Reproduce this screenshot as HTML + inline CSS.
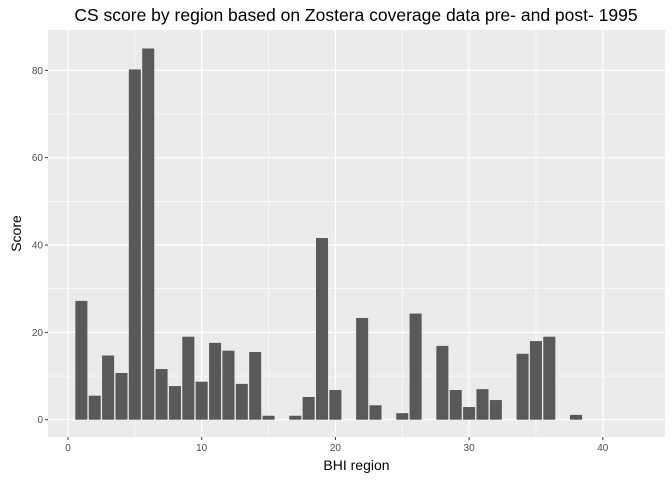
<!DOCTYPE html>
<html><head><meta charset="utf-8"><style>body{margin:0;background:#fff}svg{display:block;font-family:"Liberation Sans",sans-serif}</style></head>
<body>
<svg id="c" width="672" height="480"></svg>
<script>
const regions=[1,2,3,4,5,6,7,8,9,10,11,12,13,14,15,17,18,19,20,22,23,25,26,28,29,30,31,32,34,35,36,38];
const scores=[27.2,5.5,14.7,10.7,80.2,85,11.6,7.7,19,8.7,17.6,15.8,8.2,15.5,0.9,0.9,5.2,41.6,6.8,23.3,3.3,1.5,24.3,16.9,6.8,2.9,7,4.5,15.1,18,19,1.1];
const xTicks=[0,10,20,30,40];
const yTicks=[0,20,40,60,80];
const L=48,R=665,T=30,B=437;
const x0=68,xs=13.37,y0=419.7,ys=4.367;
const X=v=>x0+v*xs, Y=v=>y0-v*ys;
const svg=document.getElementById('c');const NS='http://www.w3.org/2000/svg';
function mk(t,a,p){const e=document.createElementNS(NS,t);for(const k in a)e.setAttribute(k,a[k]);(p||svg).appendChild(e);return e;}
const bg=mk('rect',{x:L,y:T,width:R-L,height:B-T,fill:'#ebebeb'});


const g=mk('g',{});


for(let i=0;i<xTicks.length;i++){const m=xTicks[i]+5;if(X(m)<R)mk('line',{x1:X(m),x2:X(m),y1:T,y2:B,stroke:'#fff','stroke-width':0.6},g);}
for(let i=0;i<yTicks.length;i++){const m=yTicks[i]+10;if(Y(m)>T)mk('line',{x1:L,x2:R,y1:Y(m),y2:Y(m),stroke:'#fff','stroke-width':0.6},g);}
xTicks.forEach(t=>mk('line',{x1:X(t),x2:X(t),y1:T,y2:B,stroke:'#fff','stroke-width':1.2},g));
yTicks.forEach(t=>mk('line',{x1:L,x2:R,y1:Y(t),y2:Y(t),stroke:'#fff','stroke-width':1.2},g));
regions.forEach((r,i)=>{const b=mk('rect',{x:X(r-0.45),y:Y(scores[i]),width:0.9*xs,height:Y(0)-Y(scores[i]),fill:'#595959'});

});
xTicks.forEach(t=>{mk('line',{x1:X(t),x2:X(t),y1:B,y2:B+3,stroke:'#333'});
const tx=mk('text',{x:X(t),y:B+14,'text-anchor':'middle','font-size':10,fill:'#4d4d4d'});tx.textContent=t;

});
yTicks.forEach(t=>{mk('line',{x1:L-3,x2:L,y1:Y(t),y2:Y(t),stroke:'#333'});
const tx=mk('text',{x:L-5,y:Y(t)+3.5,'text-anchor':'end','font-size':10,fill:'#4d4d4d'});tx.textContent=t;

});
const xt=mk('text',{x:(L+R)/2,y:470,'text-anchor':'middle','font-size':14,fill:'#000'});xt.textContent='BHI region';


const yt=mk('text',{x:21,y:(T+B)/2,'text-anchor':'middle','font-size':14,fill:'#000',transform:`rotate(-90 21 ${(T+B)/2})`});yt.textContent='Score';


const ti=mk('text',{x:356,y:21,'text-anchor':'middle','font-size':17.5,fill:'#000'});ti.textContent='CS score by region based on Zostera coverage data pre- and post- 1995';


</script>
</body></html>
